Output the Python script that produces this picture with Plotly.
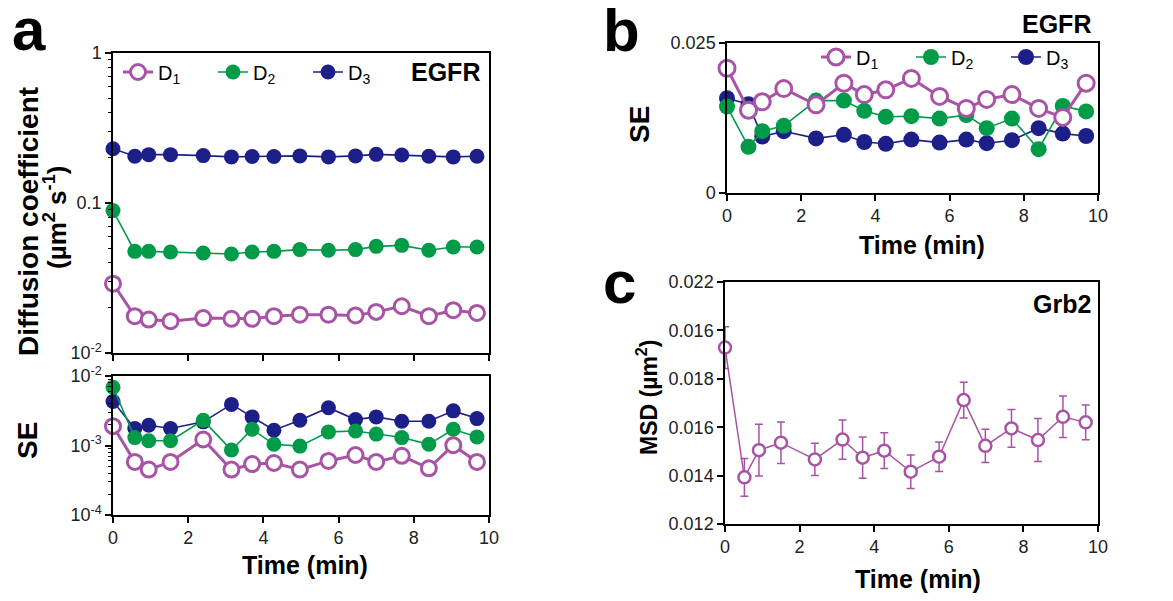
import plotly.graph_objects as go

W, H = 1173, 601

# Acquisition times (min)
time_min = [0, 0.58, 0.95, 1.53, 2.4, 3.15, 3.7, 4.28, 4.97, 5.73, 6.45, 7.0, 7.68, 8.4, 9.05, 9.68]

# Panel a (top): diffusion coefficients, um^2 s^-1
d1_coef = [0.029, 0.0176, 0.0167, 0.0163, 0.0171, 0.0169, 0.0169, 0.0176, 0.018, 0.018, 0.0178, 0.0188, 0.0205, 0.0176, 0.0193, 0.0185]
d2_coef = [0.089, 0.0476, 0.0476, 0.0471, 0.0464, 0.0457, 0.0471, 0.0476, 0.0489, 0.0484, 0.0489, 0.0514, 0.0522, 0.0484, 0.0509, 0.0509]
d3_coef = [0.23, 0.205, 0.21, 0.21, 0.207, 0.203, 0.204, 0.204, 0.206, 0.203, 0.206, 0.211, 0.209, 0.205, 0.203, 0.205]

# Panel a (bottom): standard errors of the coefficients
d1_se = [0.0019, 0.00058, 0.00045, 0.00058, 0.00122, 0.00045, 0.00054, 0.00056, 0.00045, 0.0006, 0.00073, 0.00058, 0.00071, 0.00047, 0.00101, 0.00058]
d2_se = [0.0069, 0.0013, 0.00117, 0.00117, 0.0023, 0.00086, 0.00171, 0.00104, 0.00098, 0.00157, 0.00162, 0.00146, 0.0013, 0.00104, 0.00171, 0.00133]
d3_se = [0.0043, 0.00176, 0.00196, 0.00176, 0.00219, 0.0039, 0.00258, 0.00166, 0.00231, 0.0035, 0.00236, 0.00258, 0.00223, 0.00223, 0.00315, 0.00244]

# Panel b: SE on linear scale
d1_se_b = [0.0208, 0.0138, 0.0152, 0.0174, 0.0147, 0.0183, 0.0164, 0.0172, 0.0191, 0.0161, 0.0141, 0.0156, 0.0164, 0.0141, 0.0126, 0.0183]
d2_se_b = [0.0144, 0.0077, 0.0103, 0.0112, 0.0154, 0.0154, 0.0137, 0.0127, 0.0128, 0.0124, 0.013, 0.0108, 0.0124, 0.0073, 0.0145, 0.0136]
d3_se_b = [0.0158, 0.0148, 0.0094, 0.0103, 0.0091, 0.0097, 0.0085, 0.0082, 0.0089, 0.0084, 0.0089, 0.0083, 0.0088, 0.0108, 0.0099, 0.0095]

# Panel c: Grb2 MSD (um^2) with error bars
grb2_time = [0, 0.52, 0.91, 1.5, 2.41, 3.15, 3.69, 4.27, 4.98, 5.74, 6.4, 6.98, 7.68, 8.39, 9.06, 9.67]
grb2_msd = [0.01929, 0.01393, 0.01505, 0.01536, 0.01467, 0.01549, 0.01474, 0.01503, 0.01416, 0.01478, 0.01712, 0.01523, 0.01595, 0.01547, 0.01643, 0.0162]
grb2_err = [0.00086, 0.00078, 0.00107, 0.00086, 0.00067, 0.00081, 0.00085, 0.00074, 0.00069, 0.00061, 0.00074, 0.00069, 0.00078, 0.00089, 0.00086, 0.00072]

# Tick labels
x_ticks = [0, 2, 4, 6, 8, 10]
coef_tickvals = [0.01, 0.1, 1]
coef_ticktext = ["10<sup>-2</sup>", "0.1", "1"]
se_tickvals = [1e-4, 1e-3, 1e-2]
se_ticktext = ["10<sup>-4</sup>", "10<sup>-3</sup>", "10<sup>-2</sup>"]
seb_tickvals = [0, 0.025]
seb_ticktext = ["0", "0.025"]
msd_tickvals = [0.012, 0.014, 0.016, 0.018, 0.020, 0.022]
msd_ticktext = ["0.012", "0.014", "0.016", "0.018", "0.016", "0.022"]
series_names = ["D<sub>1</sub>", "D<sub>2</sub>", "D<sub>3</sub>"]

PURPLE = "#A853A6"
GREEN = "#009B48"
NAVY = "#1D1F88"
FONT = "Liberation Sans, Arial, sans-serif"


def px_x(p):
    return p / W


def px_y(p):
    return 1 - p / H


fig = go.Figure()


def add_three(xaxis, yaxis, ys, size, legend=None):
    styles = [
        dict(color=PURPLE, lw=3.0, fill="white", mlw=3.0),
        dict(color=GREEN, lw=1.6, fill=GREEN, mlw=0),
        dict(color=NAVY, lw=1.6, fill=NAVY, mlw=0),
    ]
    # draw D3, D2 first so D1 sits on top
    for idx in [2, 1, 0]:
        s = styles[idx]
        fig.add_trace(go.Scatter(
            x=time_min, y=ys[idx], mode="lines+markers",
            name=series_names[idx],
            xaxis=xaxis, yaxis=yaxis, cliponaxis=False,
            line=dict(color=s["color"], width=s["lw"]),
            marker=dict(size=size, color=s["fill"], symbol="circle",
                        line=dict(color=s["color"], width=s["mlw"])),
            showlegend=legend is not None,
            legend=legend if legend else "legend",
            legendrank=idx + 1,
        ))


add_three("x", "y", [d1_coef, d2_coef, d3_coef], 15, legend="legend")
add_three("x2", "y2", [d1_se, d2_se, d3_se], 15)
add_three("x3", "y3", [d1_se_b, d2_se_b, d3_se_b], 16, legend="legend2")

fig.add_trace(go.Scatter(
    x=grb2_time, y=grb2_msd, mode="lines+markers", xaxis="x4", yaxis="y4",
    cliponaxis=False, showlegend=False,
    line=dict(color=PURPLE, width=1.5),
    marker=dict(size=12, color="white", line=dict(color=PURPLE, width=2.5)),
    error_y=dict(type="data", array=grb2_err, color=PURPLE, thickness=1.5, width=4),
))

axis_common = dict(showline=True, linecolor="black", linewidth=1.5, mirror=True,
                   ticks="outside", tickcolor="black", tickwidth=1.5, ticklen=6,
                   showgrid=False, zeroline=False,
                   tickfont=dict(family=FONT, size=18, color="#222"))

a_dom = [px_x(113), px_x(489)]
b_dom = [px_x(727), px_x(1098)]
c_dom = [px_x(725), px_x(1098)]

legend_common = dict(orientation="h", xanchor="left", yanchor="middle",
                     entrywidth=50, entrywidthmode="pixels", bgcolor="rgba(0,0,0,0)",
                     font=dict(family=FONT, size=20, color="black"), traceorder="normal",
                     tracegroupgap=0, itemsizing="trace")

fig.update_layout(
    width=W, height=H, margin=dict(l=0, r=0, t=0, b=0, autoexpand=False),
    paper_bgcolor="white", plot_bgcolor="white",
    font=dict(family=FONT, color="black"),
    xaxis=dict(domain=a_dom, anchor="y", range=[0, 10], tickvals=x_ticks,
               showticklabels=False, **axis_common),
    yaxis=dict(domain=[px_y(353), px_y(53)], anchor="x", type="log", range=[-2, 0],
               tickvals=coef_tickvals, ticktext=coef_ticktext,
               minor=dict(ticks="outside", tickvals=[k * 0.01 for k in range(2, 10)] + [k * 0.1 for k in range(2, 10)],
                          ticklen=3, tickwidth=1, tickcolor="black"),
               **axis_common),
    xaxis2=dict(domain=a_dom, anchor="y2", range=[0, 10], tickvals=x_ticks, **axis_common),
    yaxis2=dict(domain=[px_y(515), px_y(376)], anchor="x2", type="log", range=[-4, -2],
                tickvals=se_tickvals, ticktext=se_ticktext,
                minor=dict(ticks="outside", tickvals=[k * 1e-4 for k in range(2, 10)] + [k * 1e-3 for k in range(2, 10)],
                           ticklen=3, tickwidth=1, tickcolor="black"),
                **axis_common),
    xaxis3=dict(domain=b_dom, anchor="y3", range=[0, 10], tickvals=x_ticks, **axis_common),
    yaxis3=dict(domain=[px_y(193), px_y(43)], anchor="x3", range=[0, 0.025],
                tickvals=seb_tickvals, ticktext=seb_ticktext, **axis_common),
    xaxis4=dict(domain=c_dom, anchor="y4", range=[0, 10], tickvals=x_ticks, **axis_common),
    yaxis4=dict(domain=[px_y(524), px_y(282)], anchor="x4", range=[0.012, 0.022],
                tickvals=msd_tickvals, ticktext=msd_ticktext, **axis_common),
    legend=dict(x=px_x(118), y=px_y(72), **legend_common),
    legend2=dict(x=px_x(816), y=px_y(57), **legend_common),
)


def label(text, x, y, size, bold=True, angle=0, xanchor="center"):
    fig.add_annotation(
        text=f"<b>{text}</b>" if bold else text,
        x=px_x(x), y=px_y(y), xref="paper", yref="paper",
        xanchor=xanchor, yanchor="middle", showarrow=False, textangle=angle,
        font=dict(family=FONT, size=size, color="black"),
    )


# panel letters
label("a", 10, 30, 60, xanchor="left")
label("b", 601, 31, 60, xanchor="left")
label("c", 601, 282, 60, xanchor="left")

# axis titles
label("Diffusion coefficient", 28, 222, 28, angle=-90)
label("(µm<sup>2</sup> s<sup>-1</sup>)", 55, 218, 26, angle=-90)
label("SE", 27, 441, 28, angle=-90)
label("Time (min)", 305, 565, 25)
label("SE", 639, 125, 28, angle=-90)
label("Time (min)", 922, 245, 25)
label("MSD (µm<sup>2</sup>)", 647, 397, 23, angle=-90)
label("Time (min)", 918, 579, 25)

# protein names
label("EGFR", 445, 72, 25)
label("EGFR", 1056, 24, 25)
label("Grb2", 1062, 304, 25)

fig.write_html("out.html")
